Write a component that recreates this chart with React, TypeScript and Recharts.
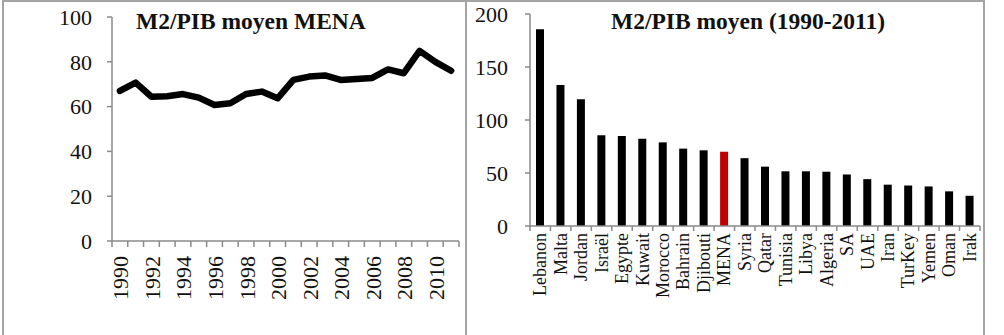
import { LineChart, Line, BarChart, Bar, Cell, XAxis, YAxis } from "recharts"

// M2/PIB moyen de la zone MENA, par année
const years = [
    "1990", "1991", "1992", "1993", "1994", "1995", "1996", "1997", "1998", "1999", "2000",
    "2001", "2002", "2003", "2004", "2005", "2006", "2007", "2008", "2009", "2010", "2011",
]
const m2Mena = [
    67.0, 70.7, 64.4, 64.6, 65.6, 64.0, 60.7, 61.5, 65.6, 66.7, 63.7,
    71.9, 73.4, 73.9, 71.9, 72.3, 72.8, 76.6, 74.9, 84.9, 80.0, 76.0,
]
const lineTicks = [0, 20, 40, 60, 80, 100]

// M2/PIB moyen 1990-2011, par pays
const countries = [
    "Lebanon", "Malta", "Jordan", "Israël", "Egypte", "Kuwait", "Morocco", "Bahrain", "Djibouti", "MENA", "Syria",
    "Qatar", "Tunisia", "Libya", "Algeria", "SA", "UAE", "Iran", "TurKey", "Yemen", "Oman", "Irak",
]
const m2Avg = [
    185.5, 133.0, 119.6, 85.6, 85.0, 82.4, 78.9, 73.0, 71.4, 70.1, 64.0,
    56.0, 51.6, 51.6, 51.2, 48.6, 44.2, 39.0, 38.2, 37.3, 32.7, 28.5,
]
const barTicks = [0, 50, 100, 150, 200]
const highlight = "MENA"

const FONT = '"Liberation Serif", "Times New Roman", serif'
const AXIS = "#8a8a8a"
const FRAME = "#a3a3a3"
const INK = "#111"

const H = 335

// left panel
const L_W = 466
const L_YW = 112
const L_RIGHT = 7
const L_TOP = 17
const L_XH = 94
const L_BAND = (L_W - L_YW - L_RIGHT) / years.length
const L_BASE = H - L_XH

// right panel
const R_X = 466
const R_W = 538
const R_YW = 64
const R_RIGHT = 24
const R_TOP = 14
const R_XH = 109
const R_BAND = (R_W - R_YW - R_RIGHT) / countries.length
const R_BASE = H - R_XH

const lineData = years.map((year, i) => ({ year, value: m2Mena[i] }))
const barData = countries.map((country, i) => ({ country, value: m2Avg[i] }))

// tick marks sit between categories, labels every other year
function YearTick({ x, payload, index }: any) {
    const half = L_BAND / 2
    const ty = L_BASE + 15
    return (
        <g>
            <line x1={x - half} x2={x - half} y1={L_BASE} y2={L_BASE + 6} stroke={AXIS} strokeWidth={1.5} />
            {index === years.length - 1 && (
                <line x1={x + half} x2={x + half} y1={L_BASE} y2={L_BASE + 6} stroke={AXIS} strokeWidth={1.5} />
            )}
            {index % 2 === 0 && (
                <text
                    x={x + 1}
                    y={ty}
                    transform={`rotate(-90 ${x + 1} ${ty})`}
                    textAnchor="end"
                    dominantBaseline="central"
                    fontSize={22}
                    fontFamily={FONT}
                    fill={INK}
                >
                    {payload.value}
                </text>
            )}
        </g>
    )
}

function CountryTick({ x, payload, index }: any) {
    const half = R_BAND / 2
    const ty = R_BASE + 7
    return (
        <g>
            <line x1={x - half} x2={x - half} y1={R_BASE} y2={R_BASE + 5} stroke={AXIS} strokeWidth={1.5} />
            {index === countries.length - 1 && (
                <line x1={x + half} x2={x + half} y1={R_BASE} y2={R_BASE + 5} stroke={AXIS} strokeWidth={1.5} />
            )}
            <text
                x={x}
                y={ty}
                transform={`rotate(-90 ${x} ${ty})`}
                textAnchor="end"
                dominantBaseline="central"
                fontSize={18}
                fontFamily={FONT}
                fill={INK}
            >
                {payload.value}
            </text>
        </g>
    )
}

const titleStyle = {
    position: "absolute" as const,
    top: 9,
    fontFamily: FONT,
    fontSize: 23.5,
    fontWeight: 700,
    lineHeight: "24px",
    color: INK,
    whiteSpace: "nowrap" as const,
}

const rule = (left: number, top: number, width: number, height: number) => (
    <div style={{ position: "absolute", left, top, width, height, background: FRAME }} />
)

export default function App() {
    return (
        <div style={{ position: "absolute", left: 0, top: 0, width: 1004, height: H, background: "#fff", overflow: "hidden" }}>
            <div style={{ position: "absolute", left: 0, top: 0 }}>
                <LineChart width={L_W} height={H} data={lineData} margin={{ top: L_TOP, right: L_RIGHT, bottom: 0, left: 0 }}>
                    <XAxis
                        dataKey="year"
                        interval={0}
                        height={L_XH}
                        padding={{ left: L_BAND / 2, right: L_BAND / 2 }}
                        axisLine={{ stroke: AXIS, strokeWidth: 1.5 }}
                        tickLine={false}
                        tick={(p: any) => <YearTick {...p} />}
                    />
                    <YAxis
                        domain={[0, 100]}
                        ticks={lineTicks}
                        width={L_YW}
                        tickSize={5}
                        tickMargin={15}
                        axisLine={{ stroke: AXIS, strokeWidth: 1.5 }}
                        tickLine={{ stroke: AXIS, strokeWidth: 1.5 }}
                        tick={{ fontSize: 22, fontFamily: FONT, fill: INK }}
                    />
                    <Line
                        dataKey="value"
                        stroke="#000"
                        strokeWidth={6.5}
                        strokeLinejoin="round"
                        strokeLinecap="round"
                        dot={false}
                        activeDot={false}
                        isAnimationActive={false}
                    />
                </LineChart>
            </div>

            <div style={{ position: "absolute", left: R_X, top: 0 }}>
                <BarChart width={R_W} height={H} data={barData} margin={{ top: R_TOP, right: R_RIGHT, bottom: 0, left: 0 }}>
                    <XAxis
                        dataKey="country"
                        interval={0}
                        height={R_XH}
                        axisLine={{ stroke: AXIS, strokeWidth: 1.5 }}
                        tickLine={false}
                        tick={(p: any) => <CountryTick {...p} />}
                    />
                    <YAxis
                        domain={[0, 200]}
                        ticks={barTicks}
                        width={R_YW}
                        tickSize={5}
                        tickMargin={17}
                        axisLine={{ stroke: AXIS, strokeWidth: 1.5 }}
                        tickLine={{ stroke: AXIS, strokeWidth: 1.5 }}
                        tick={{ fontSize: 22, fontFamily: FONT, fill: INK }}
                    />
                    <Bar dataKey="value" barSize={8} isAnimationActive={false}>
                        {barData.map((d) => (
                            <Cell key={d.country} fill={d.country === highlight ? "#c00000" : "#000"} />
                        ))}
                    </Bar>
                </BarChart>
            </div>

            <div style={{ ...titleStyle, left: 136 }}>M2/PIB moyen MENA</div>
            <div style={{ ...titleStyle, left: 611 }}>M2/PIB moyen (1990-2011)</div>

            {rule(2, 0, 983, 2)}
            {rule(2, 0, 2, H)}
            {rule(465, 0, 2, H)}
            {rule(983, 0, 2, H)}
        </div>
    )
}
